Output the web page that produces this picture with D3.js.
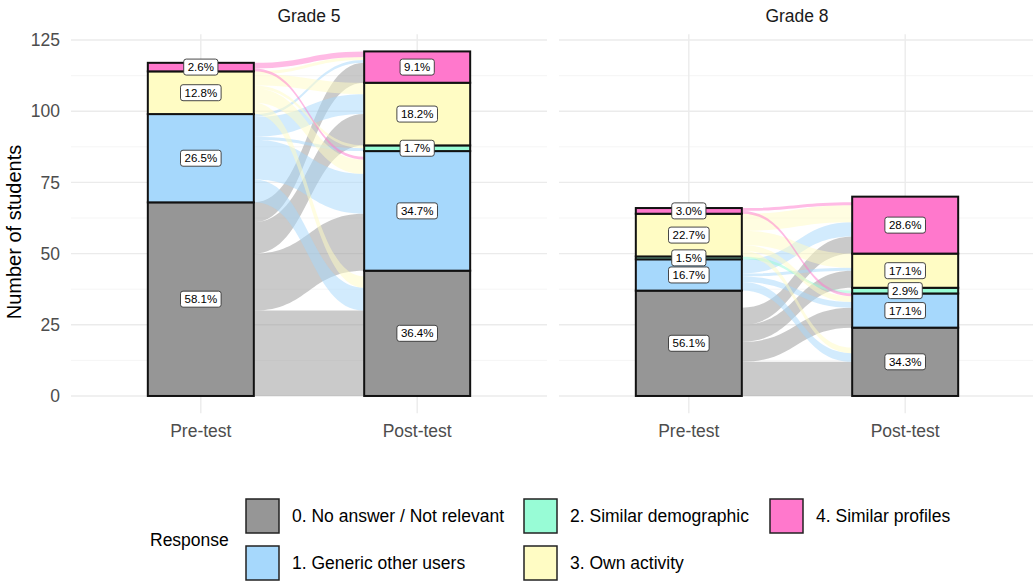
<!DOCTYPE html>
<html>
<head>
<meta charset="utf-8">
<script src="https://cdn.jsdelivr.net/npm/d3@7"></script>
<style>
  body { margin: 0; background: #fff; }
  svg { font-family: "Liberation Sans", Arial, Helvetica, sans-serif; }
</style>
</head>
<body>
<div id="container"></div>
<script>

	var grades = ["Grade 5", "Grade 8"];
	var stages = ["Pre-test", "Post-test"];
	var responses = ["0. No answer / Not relevant", "1. Generic other users", "2. Similar demographic", "3. Own activity", "4. Similar profiles"];
	var colors = ["#969696", "#a6d8fc", "#98fcd6", "#fffcc4", "#ff78cc"];

	// students per response, index = response code
	var grade5Pre = [68, 31, 0, 15, 3];
	var grade5Post = [44, 42, 2, 22, 11];
	var grade8Pre = [37, 11, 1, 15, 2];
	var grade8Post = [24, 12, 2, 12, 20];

	// paired students: rows = pre response, cols = post response
	var grade5Flows = [
		[30, 20, 0, 11, 7],
		[8, 14, 1, 7, 1],
		[0, 0, 0, 0, 0],
		[4, 5, 1, 4, 1],
		[0, 1, 0, 0, 2]
	];
	var grade8Flows = [
		[12, 7, 0, 6, 6],
		[3, 2, 0, 1, 5],
		[0, 0, 1, 0, 0],
		[2, 2, 0, 5, 6],
		[0, 1, 0, 0, 1]
	];

	var yTicks = [0, 25, 50, 75, 100, 125];

	var panels = [
		{ grade: grades[0], pre: grade5Pre, post: grade5Post, flows: grade5Flows },
		{ grade: grades[1], pre: grade8Pre, post: grade8Post, flows: grade8Flows }
	];

	var width = 1033, height = 582;
	var panelW = 476, panelLefts = [71, 559];
	var stratumW = 106;

	var svg = d3.select("#container").append("svg")
		.attr("width", width).attr("height", height);

	var maxTotal = d3.max(panels, p => Math.max(d3.sum(p.pre), d3.sum(p.post)));
	var pad = maxTotal * 0.05;
	var y = d3.scaleLinear().domain([-pad, maxTotal + pad]).range([413.2, 34.2]);

	var x = d3.scalePoint().domain(stages).range([0, panelW]).padding(0.6);

	var color = d3.scaleOrdinal().domain(d3.range(responses.length)).range(colors);

	// y axis labels + title
	svg.append("g").selectAll("text").data(yTicks).join("text")
		.attr("x", 60).attr("y", d => y(d)).attr("dy", "0.35em")
		.attr("text-anchor", "end").attr("fill", "#4d4d4d")
		.style("font-size", "17.5px").text(d => d);

	svg.append("text")
		.attr("transform", "translate(21,232) rotate(-90)")
		.attr("text-anchor", "middle").attr("fill", "#000")
		.style("font-size", "20px").text("Number of students");

	function stack(counts) {
		var out = [], base = 0;
		counts.forEach(function(n, i) {
			out.push({ code: i, n: n, y0: base, y1: base + n });
			base += n;
		});
		return out;
	}

	function flowLinks(p) {
		var preStrata = stack(p.pre), postStrata = stack(p.post);
		var links = [];
		// pre side: inside each stratum, ordered by destination
		var preOff = preStrata.map(s => s.y0);
		var postOff = postStrata.map(s => s.y0);
		var list = [];
		p.flows.forEach(function(row, i) {
			row.forEach(function(n, j) {
				if (n > 0) list.push({ from: i, to: j, n: n });
			});
		});
		list.forEach(function(f) {
			f.a0 = preOff[f.from]; f.a1 = f.a0 + f.n; preOff[f.from] = f.a1;
		});
		// post side: inside each stratum, ordered by origin
		list.slice().sort((a, b) => a.to - b.to || a.from - b.from).forEach(function(f) {
			f.b0 = postOff[f.to]; f.b1 = f.b0 + f.n; postOff[f.to] = f.b1;
		});
		return list;
	}

	panels.forEach(function(p, k) {
		var g = svg.append("g").attr("transform", "translate(" + panelLefts[k] + ",0)");

		// grid
		var minor = d3.range(12.5, maxTotal + pad, 25);
		g.append("g").selectAll("line").data(minor).join("line")
			.attr("x1", 0).attr("x2", panelW).attr("y1", d => y(d)).attr("y2", d => y(d))
			.attr("stroke", "#f3f3f3").attr("stroke-width", 0.8);
		g.append("g").selectAll("line").data(yTicks).join("line")
			.attr("x1", 0).attr("x2", panelW).attr("y1", d => y(d)).attr("y2", d => y(d))
			.attr("stroke", "#ebebeb").attr("stroke-width", 1.4);
		g.append("g").selectAll("line").data(stages).join("line")
			.attr("x1", d => x(d)).attr("x2", d => x(d))
			.attr("y1", y.range()[1]).attr("y2", y.range()[0])
			.attr("stroke", "#ebebeb").attr("stroke-width", 1.4);

		// strip title
		g.append("text").attr("x", panelW / 2).attr("y", 16).attr("dy", "0.35em")
			.attr("text-anchor", "middle").attr("fill", "#1a1a1a")
			.style("font-size", "17.5px").text(p.grade);

		// x labels
		g.append("g").selectAll("text").data(stages).join("text")
			.attr("x", d => x(d)).attr("y", 437)
			.attr("text-anchor", "middle").attr("fill", "#4d4d4d")
			.style("font-size", "17.5px").text(d => d);

		// flows
		var xa = x(stages[0]) + stratumW / 2, xb = x(stages[1]) - stratumW / 2, xm = (xa + xb) / 2;
		g.append("g").selectAll("path").data(flowLinks(p)).join("path")
			.attr("d", function(f) {
				return "M" + xa + "," + y(f.a1)
					+ "C" + xm + "," + y(f.a1) + " " + xm + "," + y(f.b1) + " " + xb + "," + y(f.b1)
					+ "L" + xb + "," + y(f.b0)
					+ "C" + xm + "," + y(f.b0) + " " + xm + "," + y(f.a0) + " " + xa + "," + y(f.a0) + "Z";
			})
			.attr("fill", f => color(f.from)).attr("fill-opacity", 0.5);

		// strata
		[p.pre, p.post].forEach(function(counts, s) {
			var total = d3.sum(counts);
			var strata = stack(counts).filter(d => d.n > 0);
			var sg = g.append("g");
			sg.selectAll("rect").data(strata).join("rect")
				.attr("x", x(stages[s]) - stratumW / 2).attr("width", stratumW)
				.attr("y", d => y(d.y1)).attr("height", d => y(d.y0) - y(d.y1))
				.attr("fill", d => color(d.code))
				.attr("stroke", "#111").attr("stroke-width", 2);

			var lab = sg.selectAll("g.lab").data(strata).join("g").attr("class", "lab")
				.attr("transform", d => "translate(" + x(stages[s]) + "," + y((d.y0 + d.y1) / 2) + ")");
			var txt = lab.append("text").attr("text-anchor", "middle").attr("dy", "0.36em")
				.style("font-size", "11.5px").attr("fill", "#000")
				.text(d => (d.n / total * 100).toFixed(1) + "%");
			lab.insert("rect", "text")
				.each(function() {
					var bb = this.parentNode.querySelector("text").getBBox();
					d3.select(this).attr("x", bb.x - 4).attr("y", -8).attr("width", bb.width + 8).attr("height", 16);
				})
				.attr("rx", 2.5).attr("fill", "#fff").attr("stroke", "#333").attr("stroke-width", 0.9);
		});
	});

	// legend
	var legend = svg.append("g");
	legend.append("text").attr("x", 150).attr("y", 540).attr("dy", "0.35em")
		.style("font-size", "17.5px").text("Response");

	var colX = [246, 524, 770], rowY = [499, 546];
	var items = legend.selectAll("g.item").data(responses).join("g").attr("class", "item")
		.attr("transform", (d, i) => "translate(" + colX[Math.floor(i / 2)] + "," + rowY[i % 2] + ")");
	items.append("rect").attr("width", 33).attr("height", 34)
		.attr("fill", (d, i) => color(i)).attr("stroke", "#222").attr("stroke-width", 1.5);
	items.append("text").attr("x", 46).attr("y", 17).attr("dy", "0.35em")
		.style("font-size", "17.5px").text(d => d);

</script>
</body>
</html>
